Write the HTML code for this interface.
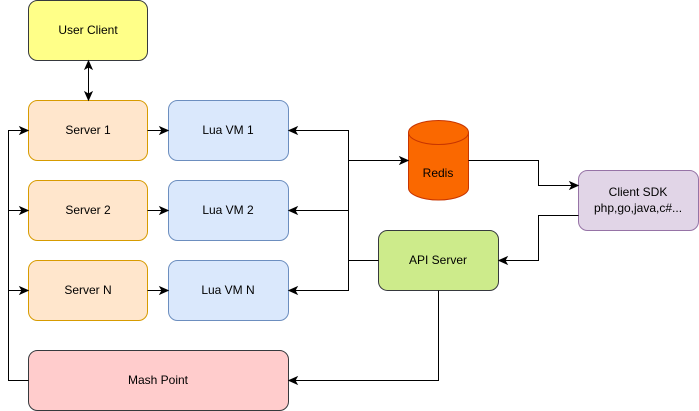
<!DOCTYPE html>
<html><head><meta charset="utf-8"><style>
html,body{margin:0;padding:0;background:#fff;}
svg{display:block;}
text{font-family:"Liberation Sans",Helvetica,Arial,sans-serif;font-size:12px;fill:#000;text-anchor:middle;}
</style></head><body>
<svg width="699" height="411" viewBox="0 0 699 411" xmlns="http://www.w3.org/2000/svg">
<g stroke-width="1">
<rect x="28.5" y="0.5" width="119" height="60" rx="9" fill="#ffff88" stroke="#36393d"/>
<rect x="28.5" y="100.5" width="119" height="60" rx="9" fill="#ffe6cc" stroke="#d79b00"/>
<rect x="28.5" y="180.5" width="119" height="60" rx="9" fill="#ffe6cc" stroke="#d79b00"/>
<rect x="28.5" y="260.5" width="119" height="60" rx="9" fill="#ffe6cc" stroke="#d79b00"/>
<rect x="168.5" y="100.5" width="120" height="60" rx="9" fill="#dae8fc" stroke="#6c8ebf"/>
<rect x="168.5" y="180.5" width="120" height="60" rx="9" fill="#dae8fc" stroke="#6c8ebf"/>
<rect x="168.5" y="260.5" width="120" height="60" rx="9" fill="#dae8fc" stroke="#6c8ebf"/>
<rect x="28.5" y="350.5" width="260" height="60" rx="9" fill="#ffcccc" stroke="#36393d"/>
<rect x="378.5" y="230.5" width="120" height="60" rx="9" fill="#cdeb8b" stroke="#36393d"/>
<rect x="578.5" y="170.5" width="120" height="60" rx="9" fill="#e1d5e7" stroke="#9673a6"/>
<path d="M408.5,132.5 L408.5,188 A30,12 0 0 0 468.5,188 L468.5,132.5 A30,12 0 0 0 408.5,132.5 Z" fill="#fa6800" stroke="#c73500"/>
<path d="M408.5,132.5 A30,12 0 0 0 468.5,132.5" fill="none" stroke="#c73500"/>
</g>
<g fill="none" stroke="#000" stroke-width="1">
<path d="M88.5,66 V94"/>
<path d="M147.5,130.5 H162 M147.5,210.5 H162 M147.5,290.5 H162"/>
<path d="M28.5,380.5 H8.5 V130.5 H22 M8.5,210.5 H22 M8.5,290.5 H22"/>
<path d="M294,130.5 H348.5 V290.5 H294 M294,210.5 H348.5 M348.5,160.5 H402 M378.5,260.5 H348.5"/>
<path d="M468.5,160.5 H538.5 V185.5 H572"/>
<path d="M578.5,215.5 H538.5 V260.5 H504"/>
<path d="M438.5,290.5 V380.5 H294"/>
</g>
<g fill="#000" stroke="#000" stroke-width="1">
<path d="M88.5,61 l-3.5,8 l3.5,-2 l3.5,2 Z"/>
<path d="M88.5,100 l-3.5,-8 l3.5,2 l3.5,-2 Z"/>
<path d="M168,130.5 l-8,-3.5 l2,3.5 l-2,3.5 Z"/>
<path d="M168,210.5 l-8,-3.5 l2,3.5 l-2,3.5 Z"/>
<path d="M168,290.5 l-8,-3.5 l2,3.5 l-2,3.5 Z"/>
<path d="M28,130.5 l-8,-3.5 l2,3.5 l-2,3.5 Z"/>
<path d="M28,210.5 l-8,-3.5 l2,3.5 l-2,3.5 Z"/>
<path d="M28,290.5 l-8,-3.5 l2,3.5 l-2,3.5 Z"/>
<path d="M289,130.5 l8,-3.5 l-2,3.5 l2,3.5 Z"/>
<path d="M289,210.5 l8,-3.5 l-2,3.5 l2,3.5 Z"/>
<path d="M289,290.5 l8,-3.5 l-2,3.5 l2,3.5 Z"/>
<path d="M408,160.5 l-8,-3.5 l2,3.5 l-2,3.5 Z"/>
<path d="M578,185.5 l-8,-3.5 l2,3.5 l-2,3.5 Z"/>
<path d="M499,260.5 l8,-3.5 l-2,3.5 l2,3.5 Z"/>
<path d="M289,380.5 l8,-3.5 l-2,3.5 l2,3.5 Z"/>
</g>
<text x="88" y="34">User Client</text>
<text x="88" y="134">Server 1</text>
<text x="88" y="214">Server 2</text>
<text x="88" y="294">Server N</text>
<text x="228" y="134">Lua VM 1</text>
<text x="228" y="214">Lua VM 2</text>
<text x="228" y="294">Lua VM N</text>
<text x="158" y="384">Mash Point</text>
<text x="438" y="264">API Server</text>
<text x="438" y="177">Redis</text>
<text x="638" y="196">Client SDK</text>
<text x="638" y="212">php,go,java,c#...</text>
</svg>
</body></html>
